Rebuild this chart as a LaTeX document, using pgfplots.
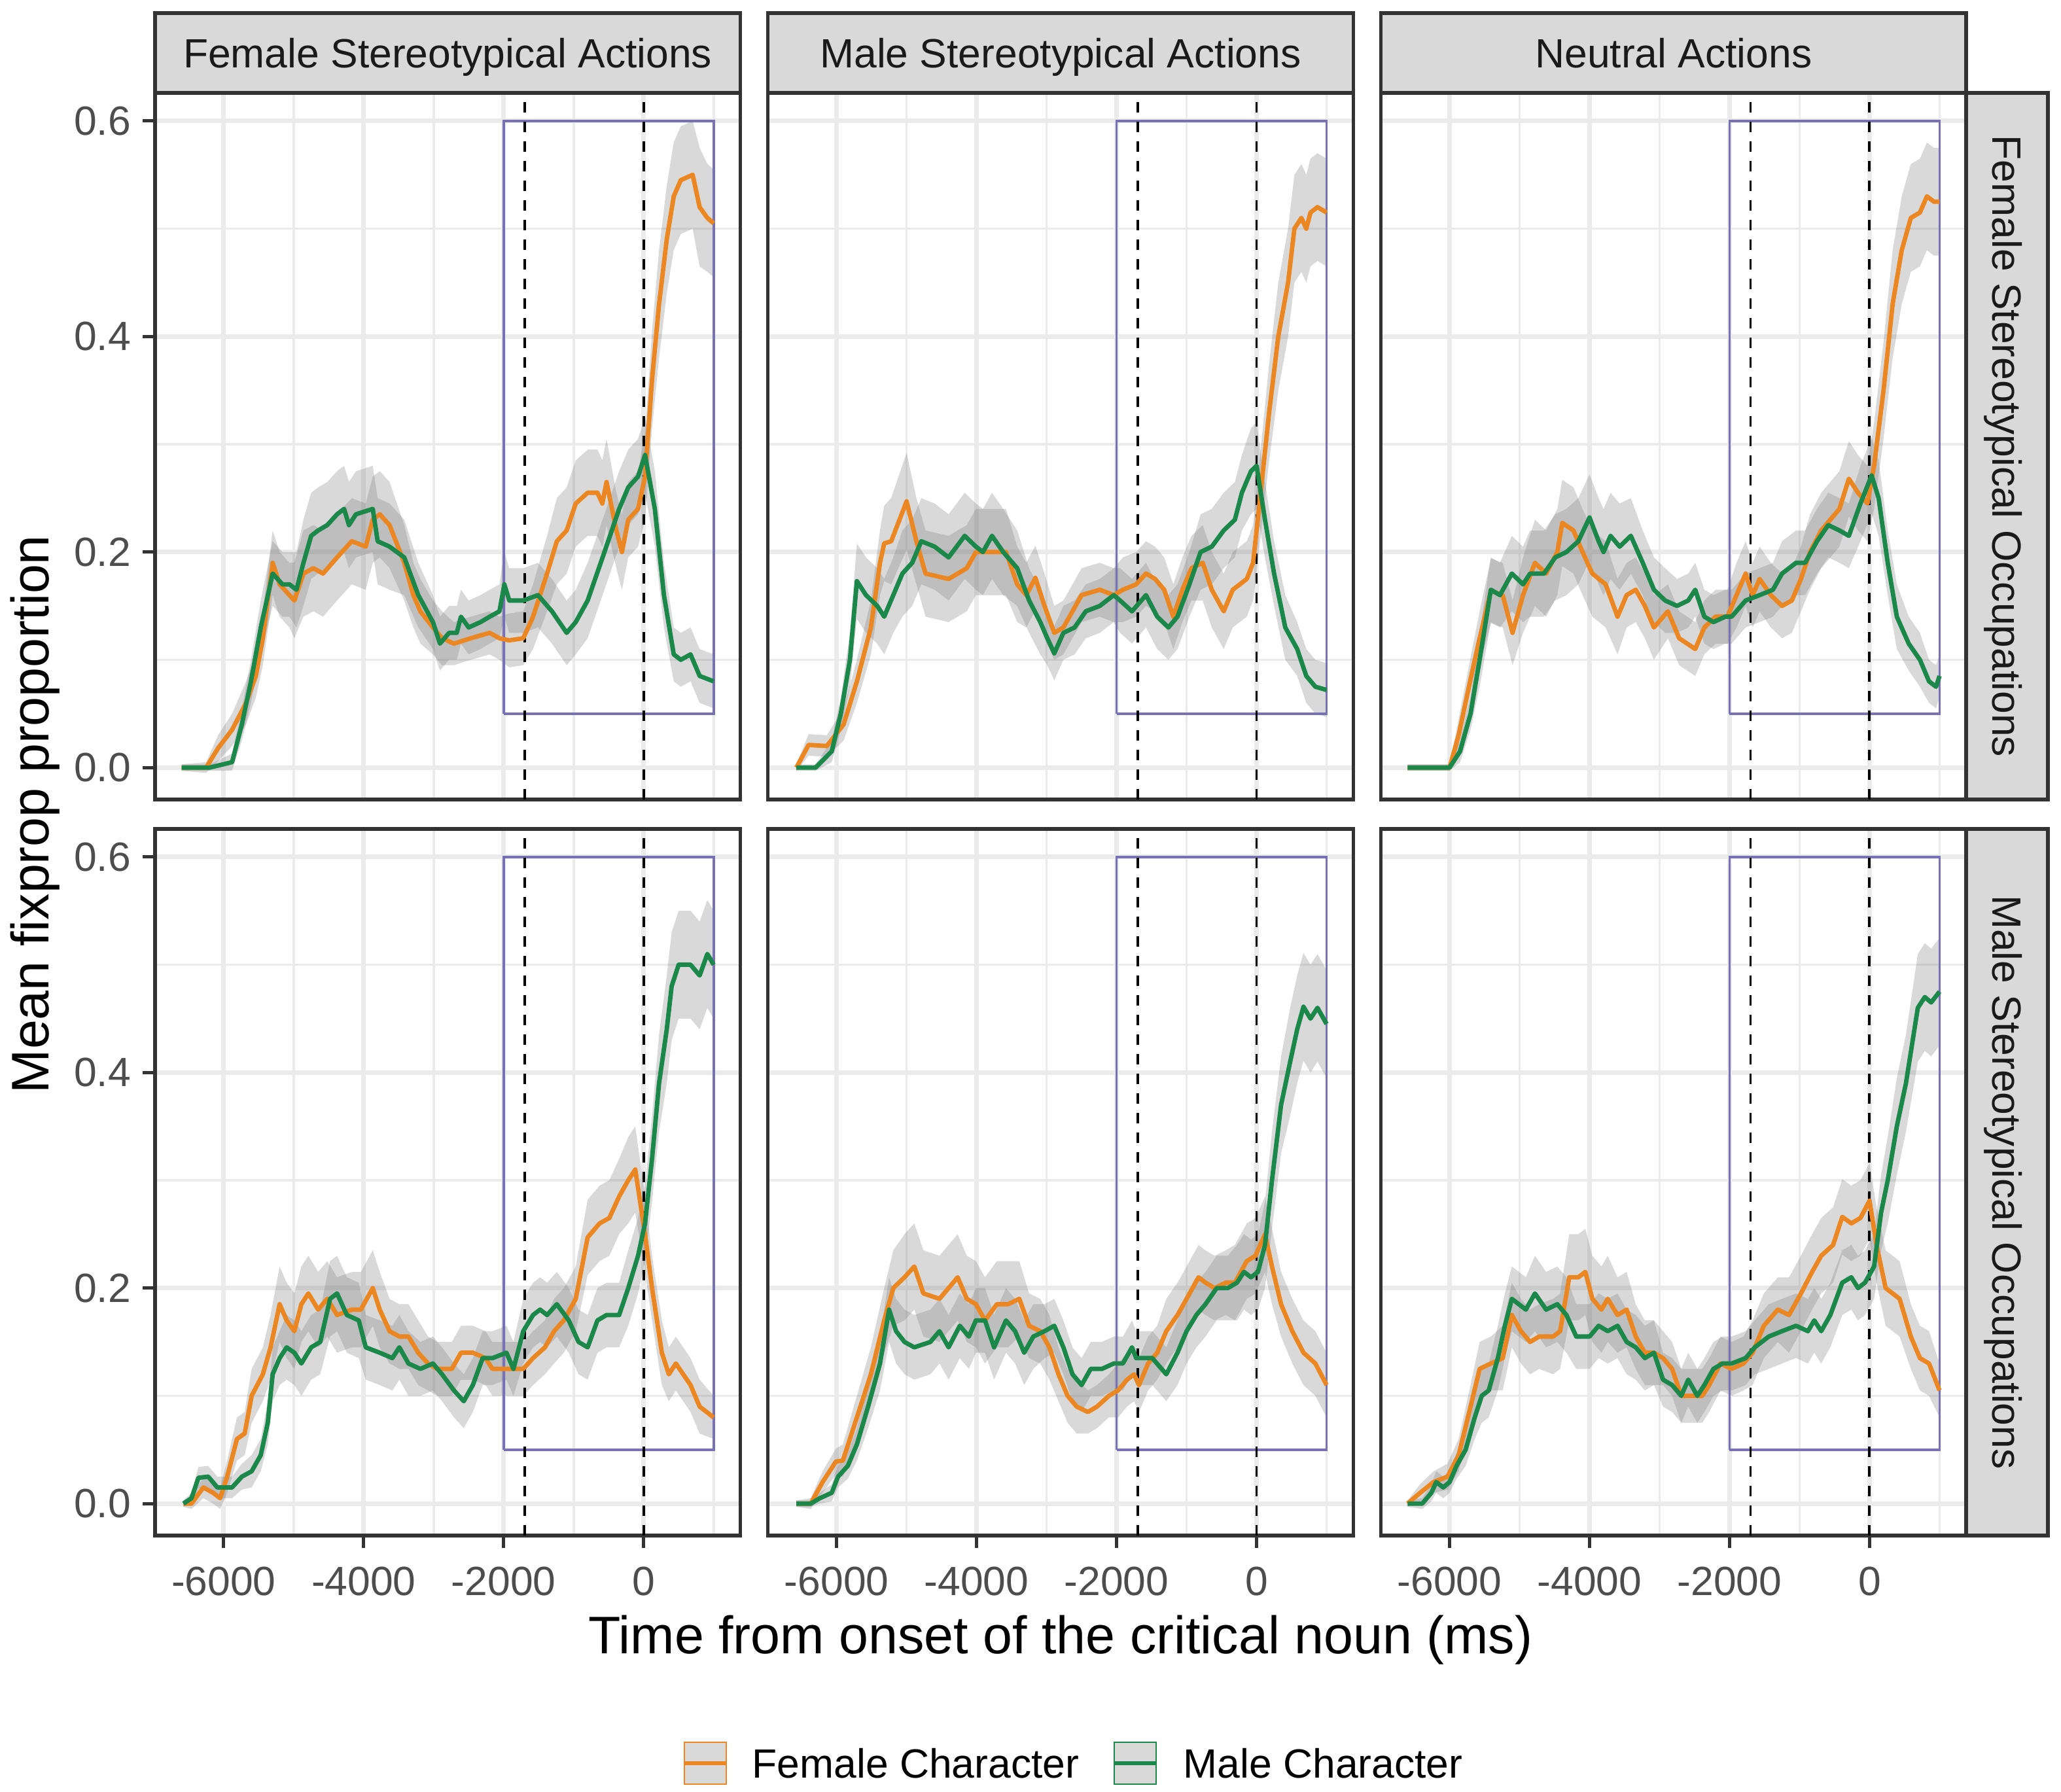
\documentclass[border=0pt]{standalone}
\usepackage{fontspec}
\setmainfont{Liberation Sans}
\usepackage{pgfplots}
\pgfplotsset{compat=1.18}
\usepackage{pgfplotstable}
\usepgfplotslibrary{fillbetween}

\definecolor{forange}{RGB}{235,135,35}
\definecolor{mgreen}{RGB}{27,135,75}
\definecolor{rectc}{RGB}{120,114,180}
\definecolor{grey20}{RGB}{51,51,51}
\definecolor{grey30}{RGB}{77,77,77}
\definecolor{grey10}{RGB}{26,26,26}
\definecolor{grid92}{RGB}{235,235,235}
\definecolor{stripc}{RGB}{217,217,217}

\newcommand\tickfont{\fontsize{15.6}{18}\selectfont}
\newcommand\titlefont{\fontsize{20.2}{24}\selectfont}

% ---------------- data: t (ms), y (mean), e (ribbon half-width) -------------
\pgfplotstableread{
t y e
-6600 0 0.003
-6250 0 0.005
-6080 0.018 0.012
-5880 0.035 0.015
-5680 0.06 0.02
-5540 0.085 0.02
-5440 0.12 0.025
-5300 0.19 0.03
-5200 0.17 0.03
-5060 0.16 0.03
-4990 0.155 0.035
-4860 0.18 0.04
-4720 0.185 0.04
-4580 0.18 0.04
-4380 0.195 0.04
-4170 0.21 0.04
-3970 0.205 0.04
-3870 0.23 0.04
-3770 0.235 0.04
-3630 0.225 0.04
-3420 0.19 0.035
-3290 0.16 0.03
-3190 0.145 0.03
-3010 0.13 0.025
-2880 0.12 0.025
-2710 0.115 0.02
-2470 0.12 0.02
-2200 0.125 0.02
-2060 0.12 0.02
-1920 0.118 0.025
-1720 0.12 0.025
-1580 0.14 0.03
-1380 0.18 0.035
-1240 0.21 0.04
-1100 0.22 0.04
-970 0.245 0.04
-800 0.255 0.04
-660 0.255 0.04
-590 0.245 0.04
-530 0.265 0.04
-390 0.22 0.035
-310 0.2 0.035
-220 0.23 0.035
-80 0.24 0.035
20 0.27 0.04
120 0.36 0.045
220 0.43 0.05
330 0.49 0.05
430 0.53 0.05
530 0.545 0.05
700 0.55 0.05
800 0.52 0.055
910 0.51 0.05
1000 0.505 0.05
}\tabAF
\pgfplotstableread{
t y e
-6600 0 0.003
-6200 0 0.003
-5880 0.005 0.008
-5740 0.04 0.015
-5610 0.08 0.02
-5470 0.13 0.025
-5300 0.18 0.03
-5160 0.17 0.03
-5060 0.17 0.03
-4960 0.165 0.035
-4860 0.19 0.04
-4750 0.215 0.04
-4650 0.22 0.04
-4520 0.225 0.04
-4380 0.235 0.04
-4280 0.24 0.04
-4210 0.225 0.04
-4110 0.235 0.04
-3870 0.24 0.04
-3800 0.21 0.04
-3630 0.205 0.04
-3420 0.195 0.035
-3220 0.16 0.03
-3010 0.135 0.025
-2910 0.115 0.025
-2780 0.125 0.025
-2670 0.125 0.025
-2610 0.14 0.025
-2500 0.13 0.025
-2330 0.135 0.025
-2200 0.14 0.025
-2060 0.145 0.025
-1990 0.17 0.03
-1920 0.155 0.03
-1720 0.155 0.03
-1510 0.16 0.03
-1310 0.145 0.03
-1100 0.125 0.03
-970 0.135 0.03
-800 0.155 0.035
-560 0.2 0.035
-350 0.24 0.035
-220 0.26 0.035
-80 0.27 0.035
20 0.29 0.035
160 0.24 0.035
290 0.16 0.03
430 0.105 0.025
530 0.1 0.025
670 0.105 0.025
800 0.085 0.025
1000 0.08 0.025
}\tabAM
\pgfplotstableread{
t y e
-6575 0 0.003
-6400 0.021 0.01
-6140 0.02 0.01
-5900 0.04 0.015
-5710 0.08 0.02
-5510 0.13 0.025
-5380 0.19 0.03
-5320 0.208 0.035
-5220 0.21 0.04
-5000 0.247 0.045
-4860 0.21 0.04
-4730 0.18 0.04
-4400 0.175 0.04
-4140 0.185 0.04
-4010 0.2 0.04
-3750 0.2 0.04
-3580 0.2 0.04
-3420 0.17 0.035
-3290 0.16 0.03
-3160 0.176 0.03
-3030 0.15 0.03
-2890 0.125 0.025
-2760 0.13 0.025
-2500 0.16 0.025
-2240 0.165 0.025
-2040 0.16 0.025
-1910 0.165 0.03
-1720 0.17 0.03
-1580 0.18 0.03
-1450 0.175 0.03
-1320 0.165 0.03
-1190 0.14 0.03
-1060 0.165 0.03
-930 0.185 0.03
-770 0.19 0.035
-640 0.165 0.035
-470 0.145 0.035
-340 0.165 0.035
-140 0.175 0.035
-50 0.19 0.035
50 0.25 0.04
180 0.33 0.045
310 0.40 0.05
450 0.45 0.05
540 0.5 0.05
640 0.51 0.05
710 0.5 0.05
770 0.515 0.05
870 0.52 0.05
1000 0.515 0.05
}\tabBF
\pgfplotstableread{
t y e
-6575 0 0.003
-6300 0 0.003
-6070 0.015 0.01
-5940 0.05 0.015
-5810 0.1 0.025
-5710 0.173 0.035
-5580 0.16 0.035
-5420 0.15 0.035
-5320 0.14 0.035
-5190 0.16 0.035
-5060 0.18 0.04
-4920 0.19 0.04
-4790 0.21 0.04
-4600 0.205 0.04
-4400 0.195 0.04
-4170 0.215 0.04
-4010 0.205 0.04
-3910 0.2 0.04
-3780 0.215 0.04
-3620 0.2 0.04
-3420 0.185 0.035
-3250 0.155 0.03
-3090 0.135 0.03
-2990 0.12 0.025
-2890 0.106 0.025
-2760 0.125 0.025
-2600 0.13 0.025
-2440 0.145 0.025
-2240 0.15 0.025
-2040 0.16 0.025
-1950 0.155 0.03
-1780 0.145 0.03
-1580 0.16 0.03
-1420 0.14 0.03
-1260 0.13 0.03
-1130 0.14 0.03
-960 0.17 0.03
-800 0.2 0.035
-640 0.205 0.035
-470 0.22 0.035
-310 0.23 0.035
-210 0.255 0.035
-80 0.275 0.04
0 0.28 0.04
120 0.23 0.035
250 0.18 0.03
410 0.13 0.03
580 0.11 0.025
710 0.085 0.025
840 0.075 0.025
1000 0.072 0.025
}\tabBM
\pgfplotstableread{
t y e
-6600 0 0.003
-6000 0 0.003
-5870 0.03 0.015
-5700 0.082 0.02
-5570 0.12 0.025
-5410 0.164 0.03
-5240 0.16 0.03
-5100 0.125 0.03
-4950 0.16 0.035
-4780 0.19 0.04
-4620 0.18 0.04
-4460 0.2 0.04
-4390 0.227 0.04
-4230 0.22 0.04
-4100 0.2 0.04
-3960 0.18 0.04
-3770 0.17 0.04
-3600 0.14 0.035
-3470 0.16 0.03
-3340 0.165 0.03
-3210 0.15 0.03
-3080 0.13 0.03
-2880 0.145 0.025
-2720 0.12 0.025
-2490 0.11 0.025
-2360 0.13 0.025
-2200 0.14 0.025
-2030 0.14 0.025
-1900 0.16 0.03
-1770 0.18 0.03
-1670 0.16 0.03
-1570 0.175 0.03
-1410 0.16 0.03
-1250 0.15 0.03
-1110 0.155 0.03
-980 0.175 0.03
-850 0.2 0.035
-690 0.22 0.035
-560 0.23 0.035
-430 0.24 0.035
-295 0.268 0.035
-165 0.255 0.035
-30 0.245 0.035
65 0.28 0.04
200 0.35 0.045
330 0.43 0.05
460 0.48 0.05
590 0.51 0.05
720 0.515 0.05
820 0.53 0.05
920 0.525 0.05
1000 0.525 0.05
}\tabCF
\pgfplotstableread{
t y e
-6600 0 0.003
-6000 0 0.003
-5850 0.015 0.01
-5700 0.05 0.015
-5570 0.1 0.025
-5410 0.165 0.03
-5280 0.16 0.03
-5110 0.18 0.035
-4950 0.17 0.035
-4850 0.18 0.04
-4650 0.18 0.04
-4490 0.195 0.04
-4330 0.2 0.04
-4160 0.21 0.04
-4000 0.232 0.04
-3870 0.21 0.04
-3800 0.2 0.04
-3700 0.215 0.04
-3570 0.205 0.04
-3410 0.215 0.035
-3240 0.19 0.03
-3080 0.165 0.03
-2920 0.155 0.03
-2750 0.15 0.025
-2590 0.155 0.025
-2490 0.165 0.025
-2360 0.14 0.025
-2230 0.135 0.025
-2060 0.14 0.025
-1970 0.14 0.025
-1770 0.155 0.025
-1570 0.16 0.025
-1380 0.165 0.025
-1250 0.18 0.03
-1050 0.19 0.03
-920 0.19 0.03
-750 0.21 0.03
-590 0.225 0.03
-430 0.22 0.03
-295 0.215 0.03
-130 0.245 0.035
30 0.271 0.035
130 0.25 0.035
260 0.19 0.03
390 0.14 0.03
560 0.115 0.025
720 0.1 0.025
850 0.08 0.02
950 0.075 0.02
1000 0.085 0.02
}\tabCM
\pgfplotstableread{
t y e
-6575 0 0.003
-6460 0 0.005
-6290 0.015 0.01
-6150 0.01 0.01
-6050 0.005 0.01
-5950 0.025 0.015
-5810 0.06 0.02
-5700 0.065 0.02
-5600 0.1 0.025
-5440 0.12 0.025
-5330 0.145 0.03
-5200 0.185 0.035
-5100 0.17 0.035
-4990 0.16 0.035
-4890 0.185 0.035
-4790 0.195 0.035
-4650 0.18 0.035
-4520 0.19 0.035
-4380 0.175 0.035
-4170 0.18 0.035
-4040 0.18 0.035
-3870 0.2 0.035
-3770 0.18 0.035
-3630 0.16 0.03
-3490 0.155 0.03
-3360 0.155 0.03
-3220 0.14 0.03
-3080 0.13 0.025
-2950 0.125 0.025
-2740 0.125 0.025
-2610 0.14 0.025
-2440 0.14 0.025
-2260 0.135 0.025
-2160 0.125 0.025
-1920 0.125 0.025
-1720 0.125 0.025
-1580 0.135 0.025
-1410 0.145 0.025
-1280 0.16 0.03
-1140 0.17 0.03
-970 0.19 0.03
-800 0.247 0.035
-630 0.26 0.035
-490 0.265 0.035
-350 0.285 0.035
-220 0.3 0.04
-120 0.31 0.04
20 0.25 0.035
120 0.2 0.03
260 0.14 0.03
360 0.12 0.025
460 0.13 0.025
670 0.11 0.025
800 0.09 0.025
1000 0.08 0.02
}\tabDF
\pgfplotstableread{
t y e
-6575 0 0.003
-6460 0.005 0.005
-6360 0.024 0.01
-6220 0.025 0.01
-6090 0.015 0.01
-5880 0.015 0.01
-5740 0.025 0.012
-5600 0.03 0.015
-5470 0.045 0.015
-5370 0.075 0.02
-5300 0.12 0.025
-5200 0.135 0.025
-5100 0.145 0.03
-4990 0.14 0.03
-4890 0.13 0.03
-4750 0.145 0.03
-4620 0.15 0.03
-4480 0.19 0.035
-4380 0.195 0.035
-4240 0.175 0.035
-4070 0.17 0.035
-3970 0.145 0.03
-3770 0.14 0.03
-3590 0.135 0.03
-3490 0.145 0.03
-3360 0.13 0.03
-3190 0.125 0.025
-3010 0.13 0.025
-2880 0.12 0.025
-2710 0.105 0.025
-2570 0.095 0.025
-2440 0.11 0.025
-2300 0.135 0.025
-2160 0.135 0.025
-1960 0.14 0.025
-1860 0.125 0.025
-1720 0.16 0.03
-1580 0.175 0.03
-1480 0.18 0.03
-1380 0.175 0.03
-1240 0.185 0.03
-1070 0.17 0.03
-930 0.15 0.03
-800 0.145 0.03
-660 0.17 0.03
-530 0.175 0.03
-350 0.175 0.03
-220 0.2 0.035
-80 0.23 0.035
20 0.26 0.035
120 0.32 0.04
220 0.39 0.045
330 0.44 0.05
400 0.48 0.05
500 0.5 0.05
670 0.5 0.05
800 0.49 0.05
910 0.51 0.05
1000 0.5 0.05
}\tabDM
\pgfplotstableread{
t y e
-6575 0 0.003
-6370 0 0.005
-6200 0.02 0.01
-6010 0.039 0.012
-5910 0.04 0.015
-5710 0.08 0.02
-5510 0.12 0.025
-5320 0.17 0.03
-5190 0.2 0.035
-5030 0.21 0.04
-4890 0.22 0.04
-4760 0.195 0.04
-4530 0.19 0.04
-4400 0.2 0.04
-4270 0.21 0.04
-4140 0.19 0.04
-4010 0.185 0.04
-3880 0.17 0.04
-3710 0.185 0.04
-3550 0.185 0.04
-3390 0.19 0.035
-3250 0.165 0.03
-3090 0.16 0.03
-2960 0.145 0.03
-2830 0.12 0.025
-2700 0.1 0.025
-2570 0.09 0.025
-2410 0.085 0.02
-2280 0.09 0.02
-2110 0.1 0.02
-1980 0.105 0.025
-1850 0.115 0.025
-1750 0.12 0.025
-1680 0.11 0.025
-1550 0.13 0.025
-1420 0.14 0.025
-1290 0.16 0.03
-1130 0.175 0.03
-1000 0.19 0.03
-830 0.21 0.03
-730 0.205 0.03
-600 0.2 0.03
-440 0.205 0.03
-310 0.205 0.035
-140 0.225 0.035
-15 0.23 0.035
120 0.25 0.035
220 0.22 0.035
350 0.185 0.03
510 0.16 0.03
670 0.14 0.03
840 0.13 0.03
1000 0.11 0.03
}\tabEF
\pgfplotstableread{
t y e
-6575 0 0.003
-6370 0 0.003
-6240 0.005 0.005
-6070 0.01 0.008
-5980 0.025 0.01
-5840 0.035 0.012
-5710 0.055 0.015
-5550 0.09 0.02
-5380 0.13 0.025
-5250 0.18 0.03
-5150 0.16 0.03
-5030 0.15 0.03
-4890 0.145 0.03
-4660 0.15 0.03
-4530 0.16 0.03
-4400 0.145 0.03
-4240 0.165 0.03
-4110 0.155 0.03
-4010 0.17 0.03
-3880 0.17 0.03
-3750 0.145 0.03
-3580 0.17 0.03
-3450 0.16 0.03
-3320 0.14 0.03
-3190 0.155 0.03
-3030 0.16 0.025
-2890 0.165 0.025
-2760 0.145 0.025
-2630 0.12 0.025
-2500 0.11 0.025
-2370 0.125 0.025
-2210 0.125 0.025
-2040 0.13 0.025
-1910 0.13 0.025
-1780 0.145 0.025
-1720 0.135 0.025
-1650 0.135 0.025
-1490 0.135 0.025
-1290 0.12 0.025
-1130 0.14 0.03
-1000 0.16 0.03
-860 0.175 0.03
-730 0.185 0.03
-570 0.2 0.03
-410 0.2 0.03
-280 0.205 0.035
-180 0.215 0.035
-80 0.21 0.035
20 0.215 0.035
120 0.24 0.04
220 0.3 0.045
350 0.37 0.045
480 0.41 0.05
580 0.44 0.05
670 0.461 0.05
770 0.45 0.05
870 0.46 0.05
1000 0.445 0.05
}\tabEM
\pgfplotstableread{
t y e
-6600 0 0.003
-6420 0.01 0.008
-6230 0.02 0.01
-6030 0.025 0.012
-5870 0.045 0.015
-5700 0.09 0.02
-5570 0.125 0.025
-5410 0.13 0.025
-5240 0.135 0.03
-5110 0.175 0.03
-4980 0.16 0.03
-4850 0.15 0.03
-4720 0.155 0.03
-4520 0.155 0.035
-4420 0.16 0.035
-4290 0.21 0.04
-4160 0.21 0.04
-4060 0.215 0.04
-3960 0.19 0.04
-3830 0.18 0.04
-3740 0.19 0.04
-3600 0.175 0.035
-3470 0.18 0.035
-3340 0.155 0.03
-3210 0.14 0.03
-3080 0.14 0.03
-2950 0.135 0.025
-2820 0.125 0.025
-2690 0.1 0.025
-2560 0.1 0.025
-2390 0.1 0.025
-2290 0.11 0.025
-2130 0.13 0.025
-1970 0.125 0.025
-1800 0.13 0.025
-1670 0.14 0.03
-1510 0.165 0.03
-1310 0.18 0.03
-1150 0.175 0.035
-980 0.195 0.035
-820 0.215 0.035
-690 0.23 0.035
-520 0.24 0.035
-390 0.266 0.035
-260 0.26 0.035
-130 0.265 0.035
0 0.281 0.035
100 0.24 0.035
230 0.2 0.035
430 0.19 0.035
590 0.155 0.03
720 0.135 0.03
850 0.13 0.03
1000 0.105 0.025
}\tabFF
\pgfplotstableread{
t y e
-6600 0 0.003
-6390 0 0.005
-6260 0.01 0.008
-6190 0.02 0.01
-6090 0.015 0.01
-6000 0.02 0.01
-5900 0.035 0.012
-5770 0.05 0.015
-5640 0.08 0.02
-5540 0.1 0.025
-5440 0.105 0.025
-5310 0.135 0.03
-5210 0.165 0.03
-5110 0.19 0.03
-4910 0.18 0.03
-4780 0.195 0.035
-4620 0.18 0.035
-4460 0.185 0.035
-4330 0.175 0.035
-4190 0.155 0.03
-4000 0.155 0.03
-3870 0.165 0.03
-3740 0.16 0.03
-3600 0.165 0.03
-3470 0.15 0.03
-3340 0.145 0.03
-3210 0.135 0.03
-3080 0.14 0.03
-2950 0.115 0.025
-2820 0.11 0.025
-2690 0.1 0.025
-2590 0.115 0.025
-2460 0.1 0.025
-2360 0.11 0.025
-2230 0.125 0.025
-2100 0.13 0.025
-1970 0.13 0.025
-1770 0.135 0.025
-1640 0.145 0.025
-1440 0.155 0.03
-1250 0.16 0.03
-1050 0.165 0.03
-880 0.16 0.03
-790 0.17 0.03
-690 0.16 0.03
-560 0.175 0.03
-390 0.205 0.03
-260 0.21 0.03
-165 0.2 0.03
-65 0.205 0.03
65 0.22 0.03
165 0.27 0.035
260 0.3 0.04
390 0.35 0.045
520 0.39 0.045
690 0.46 0.05
790 0.47 0.05
880 0.465 0.05
1000 0.475 0.05
}\tabFM

\newcommand\ribbon[2]{%
  \addplot[name path=u#2, draw=none] table[x=t, y expr=\thisrow{y}+\thisrow{e}] {#1};
  \addplot[name path=l#2, draw=none] table[x=t, y expr=\thisrow{y}-\thisrow{e}] {#1};
  \addplot[fill=black!50, fill opacity=0.3, draw=none] fill between[of=u#2 and l#2];
}
\newcommand\extras{%
  \addplot[rectc, line width=0.9pt, line join=miter] coordinates {(-2000,0.05) (1000,0.05) (1000,0.6) (-2000,0.6) (-2000,0.05)};
  \addplot[black, line width=0.95pt, dash pattern=on 4pt off 3.5pt] coordinates {(-1700,-0.0296) (-1700,0.626)};
  \addplot[black, line width=0.95pt, dash pattern=on 4pt off 3.5pt] coordinates {(0,-0.0296) (0,0.626)};
}
\newcommand\panelplots[2]{%
  \ribbon{#1}{a}
  \ribbon{#2}{b}
  \extras
  \addplot[forange, line width=1.7pt, line join=round] table[x=t, y=y] {#1};
  \addplot[mgreen, line width=1.7pt, line join=round] table[x=t, y=y] {#2};
}

\pgfplotsset{
  panel/.style={
    scale only axis, width=223.6pt, height=270pt, anchor=north west,
    xmin=-6980, xmax=1380, ymin=-0.0296, ymax=0.626,
    xtick={-6000,-4000,-2000,0}, minor xtick={-5000,-3000,-1000,1000},
    ytick={0,0.2,0.4,0.6}, minor ytick={0.1,0.3,0.5},
    xticklabels={}, yticklabels={},
    grid=both,
    major grid style={draw=grid92, line width=1.7pt},
    minor grid style={draw=grid92, line width=0.9pt},
    axis line style={draw=grey20, line width=1.3pt},
    tick align=outside, major tick length=4.75pt, minor tick length=0pt,
    every tick/.style={draw=grey20, line width=1.3pt},
    minor tick style={draw=none},
    xmajorticks=false, ymajorticks=false,
    tick label style={font=\tickfont, text=grey30},
    xticklabel style={yshift=-3.75pt},
    yticklabel style={xshift=-1pt},
    xtick pos=left, ytick pos=left,
  },
  bottomrow/.style={xmajorticks=true, xticklabels={-6000,-4000,-2000,0}},
  leftcol/.style={ymajorticks=true, yticklabels={0.0,0.2,0.4,0.6}},
}

\begin{document}
\begin{tikzpicture}[x=1pt,y=1pt]
\path (0,0) rectangle (787.5,684.75);

\begin{axis}[panel, leftcol, at={(59.25pt,649.25pt)}]
\panelplots{\tabAF}{\tabAM}
\end{axis}
\begin{axis}[panel, at={(293.45pt,649.25pt)}]
\panelplots{\tabBF}{\tabBM}
\end{axis}
\begin{axis}[panel, at={(527.65pt,649.25pt)}]
\panelplots{\tabCF}{\tabCM}
\end{axis}
\begin{axis}[panel, leftcol, bottomrow, at={(59.25pt,368pt)}]
\panelplots{\tabDF}{\tabDM}
\end{axis}
\begin{axis}[panel, bottomrow, at={(293.45pt,368pt)}]
\panelplots{\tabEF}{\tabEM}
\end{axis}
\begin{axis}[panel, bottomrow, at={(527.65pt,368pt)}]
\panelplots{\tabFF}{\tabFM}
\end{axis}

% strips
\foreach \xo/\lab in {59.25/Female Stereotypical Actions, 293.45/Male Stereotypical Actions, 527.65/Neutral Actions}{
  \draw[grey20, line width=1.3pt, fill=stripc] (\xo,649.25) rectangle ++(223.6,30.5);
  \node[text=grey10, font=\tickfont, anchor=base, inner sep=0pt] at (\xo+111.8,658.9) {\lab};
}
\draw[grey20, line width=1.3pt, fill=stripc] (751.25,379.25) rectangle (782.5,649.25);
\node[text=grey10, font=\tickfont, rotate=-90, anchor=base, inner sep=0pt] at (761.3,514.25) {Female Stereotypical Occupations};
\draw[grey20, line width=1.3pt, fill=stripc] (751.25,98) rectangle (782.5,368);
\node[text=grey10, font=\tickfont, rotate=-90, anchor=base, inner sep=0pt] at (761.3,233) {Male Stereotypical Occupations};

% axis titles
\node[font=\titlefont] at (405.25,58) {Time from onset of the critical noun (ms)};
\node[font=\titlefont, rotate=90] at (13.5,373.6) {Mean fixprop proportion};

% legend
\draw[forange, line width=0.6pt, fill=black!15] (261.5,3) rectangle (277.5,19);
\draw[forange, line width=1.7pt] (261.5,11) -- (277.5,11);
\node[anchor=west, inner sep=0pt, font=\tickfont] at (287.25,11) {Female Character};
\draw[mgreen, line width=0.6pt, fill=black!15] (425.75,3) rectangle (441.75,19);
\draw[mgreen, line width=1.7pt] (425.75,11) -- (441.75,11);
\node[anchor=west, inner sep=0pt, font=\tickfont] at (452,11) {Male Character};
\end{tikzpicture}
\end{document}
